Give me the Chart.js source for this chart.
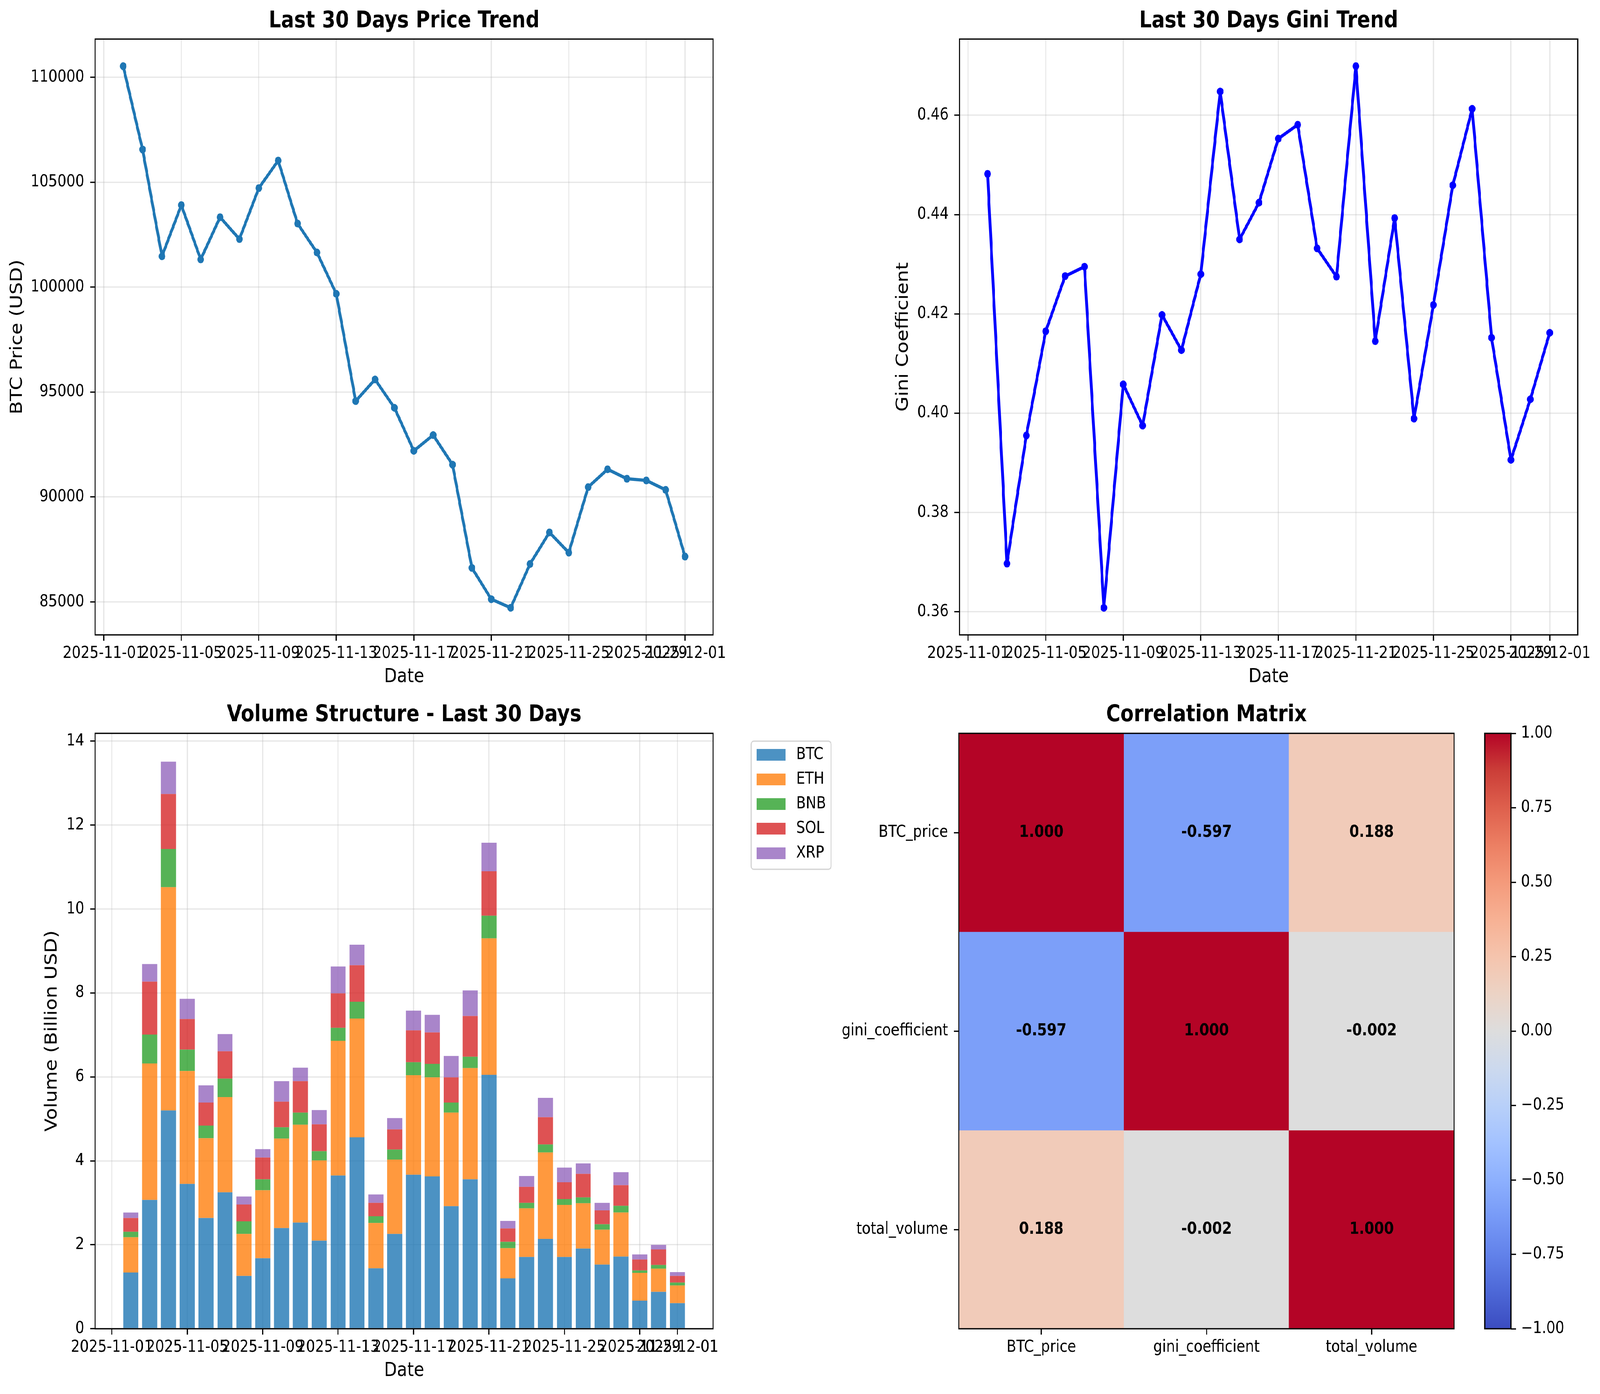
<!DOCTYPE html>
<html>
<head>
<meta charset="utf-8">
<script src="https://cdn.jsdelivr.net/npm/chart.js@4.4.1/dist/chart.umd.min.js"></script>
<style>
  html, body { margin: 0; padding: 0; background: #fff; overflow: hidden; }
  #page { width: 4761px; height: 3568px; position: relative; transform-origin: 0 0; background: #fff; }
  canvas { position: absolute; }
</style>
</head>
<body>
<div id="page">
<canvas id="priceChart" width="2300" height="1780" style="left:0px;top:0px"></canvas>
<canvas id="giniChart" width="2261" height="1780" style="left:2500px;top:0px"></canvas>
<canvas id="volumeChart" width="2490" height="1788" style="left:0px;top:1780px"></canvas>
<canvas id="corrChart" width="1910" height="1788" style="left:2490px;top:1780px"></canvas>
<canvas id="colorbarChart" width="361" height="1788" style="left:4400px;top:1780px"></canvas>
</div>
<script>
// data
const dates = [
  '2025-11-02', '2025-11-03', '2025-11-04', '2025-11-05', '2025-11-06', '2025-11-07',
  '2025-11-08', '2025-11-09', '2025-11-10', '2025-11-11', '2025-11-12', '2025-11-13',
  '2025-11-14', '2025-11-15', '2025-11-16', '2025-11-17', '2025-11-18', '2025-11-19',
  '2025-11-20', '2025-11-21', '2025-11-22', '2025-11-23', '2025-11-24', '2025-11-25',
  '2025-11-26', '2025-11-27', '2025-11-28', '2025-11-29', '2025-11-30', '2025-12-01'
];
const tickDates = ['2025-11-01', '2025-11-05', '2025-11-09', '2025-11-13', '2025-11-17',
  '2025-11-21', '2025-11-25', '2025-11-29', '2025-12-01'];

const btcPrice = [110530, 106560, 101470, 103910, 101320, 103330, 102290, 104720, 106030, 103030,
  101650, 99680, 94570, 95600, 94250, 92200, 92950, 91540, 86620, 85130,
  84720, 86810, 88310, 87350, 90470, 91320, 90870, 90790, 90340, 87160];
const priceTicks = [85000, 90000, 95000, 100000, 105000, 110000];

const giniCoef = [0.4482, 0.3697, 0.3955, 0.4165, 0.4276, 0.4295, 0.3608, 0.4058, 0.3975, 0.4198,
  0.4127, 0.4280, 0.4648, 0.4350, 0.4424, 0.4553, 0.4581, 0.4332, 0.4275, 0.4699,
  0.4145, 0.4393, 0.3989, 0.4218, 0.4459, 0.4613, 0.4152, 0.3906, 0.4028, 0.4162];
const giniTicks = [0.36, 0.38, 0.40, 0.42, 0.44, 0.46];

const coinNames = ['BTC', 'ETH', 'BNB', 'SOL', 'XRP'];
const coinColors = ['rgba(31,119,180,0.8)', 'rgba(255,127,14,0.8)', 'rgba(44,160,44,0.8)',
  'rgba(214,39,40,0.8)', 'rgba(148,103,189,0.8)'];
const btcVol = [1.34, 3.07, 5.20, 3.45, 2.64, 3.25, 1.26, 1.68, 2.40, 2.53, 2.10, 3.65, 4.56, 1.44, 2.26,
  3.67, 3.63, 2.92, 3.56, 6.05, 1.20, 1.71, 2.14, 1.71, 1.91, 1.53, 1.72, 0.67, 0.88, 0.61];
const ethVol = [0.84, 3.25, 5.32, 2.69, 1.90, 2.27, 1.00, 1.62, 2.13, 2.33, 1.91, 3.21, 2.83, 1.08, 1.77,
  2.37, 2.36, 2.23, 2.65, 3.25, 0.72, 1.16, 2.06, 1.24, 1.08, 0.83, 1.05, 0.66, 0.55, 0.42];
const bnbVol = [0.13, 0.69, 0.91, 0.51, 0.30, 0.44, 0.30, 0.26, 0.27, 0.29, 0.22, 0.31, 0.40, 0.16, 0.24,
  0.31, 0.32, 0.24, 0.27, 0.54, 0.15, 0.13, 0.19, 0.14, 0.14, 0.13, 0.16, 0.06, 0.09, 0.07];
const solVol = [0.33, 1.26, 1.31, 0.73, 0.55, 0.65, 0.40, 0.52, 0.61, 0.75, 0.64, 0.82, 0.87, 0.32, 0.48,
  0.76, 0.75, 0.60, 0.97, 1.06, 0.32, 0.38, 0.65, 0.40, 0.56, 0.33, 0.49, 0.26, 0.37, 0.16];
const xrpVol = [0.13, 0.42, 0.77, 0.48, 0.41, 0.41, 0.19, 0.20, 0.49, 0.32, 0.34, 0.64, 0.49, 0.20, 0.27,
  0.47, 0.42, 0.51, 0.61, 0.68, 0.18, 0.26, 0.46, 0.35, 0.25, 0.18, 0.31, 0.12, 0.11, 0.09];
const volumeTicks = [0, 2, 4, 6, 8, 10, 12, 14];

const corrLabels = ['BTC_price', 'gini_coefficient', 'total_volume'];
const corrBtcPrice = [1.000, -0.597, 0.188];
const corrGini = [-0.597, 1.000, -0.002];
const corrVolume = [0.188, -0.002, 1.000];
const colorbarTicks = [-1, -0.75, -0.5, -0.25, 0, 0.25, 0.5, 0.75, 1];

// matplotlib coolwarm, sampled every 1/16
const coolwarmStops = [
  [59, 76, 192], [77, 104, 215], [98, 130, 234], [119, 154, 247], [141, 176, 254],
  [163, 194, 255], [184, 208, 249], [204, 217, 238], [221, 221, 221], [236, 211, 197],
  [245, 196, 173], [247, 177, 148], [244, 154, 123], [236, 127, 99], [222, 96, 77],
  [203, 62, 56], [180, 4, 38]
];

// the page is laid out at 4761x3568; the browser caps the window at 4096 wide,
// so stretch the whole page onto whatever viewport we actually get
const PAGE_W = 4761, PAGE_H = 3568;
const sx = window.innerWidth / PAGE_W, sy = window.innerHeight / PAGE_H;
document.getElementById('page').style.transform = 'scale(' + sx + ',' + sy + ')';

const FONT = 'DejaVu Sans';
const LW = 3.3;
const GRID = 'rgba(176,176,176,0.3)';
Chart.defaults.font.family = FONT;
Chart.defaults.font.size = 42;
Chart.defaults.color = '#000';

const origin = Date.parse('2025-11-01');
function dayOf(d) { return Math.round((Date.parse(d) - origin) / 86400000); }

function coolwarm(v) {
  const t = Math.min(1, Math.max(0, (v + 1) / 2)) * (coolwarmStops.length - 1);
  const i = Math.min(Math.floor(t), coolwarmStops.length - 2);
  const f = t - i;
  const a = coolwarmStops[i], b = coolwarmStops[i + 1];
  const c = a.map((x, k) => Math.round(x + (b[k] - x) * f));
  return 'rgb(' + c.join(',') + ')';
}

function pad5(lo, hi) {
  const p = (hi - lo) * 0.05;
  return [lo - p, hi + p];
}

// black box round the plot area, like matplotlib spines
const framePlugin = {
  id: 'frame',
  afterDraw(chart) {
    const { ctx, chartArea: a } = chart;
    ctx.save();
    ctx.strokeStyle = '#000';
    ctx.lineWidth = LW;
    ctx.strokeRect(a.left, a.top, a.right - a.left, a.bottom - a.top);
    ctx.restore();
  }
};

function dateAxis(range, height, titlePadBottom) {
  return {
    type: 'linear',
    min: range[0],
    max: range[1],
    offset: false,
    afterBuildTicks: s => { s.ticks = tickDates.map(d => ({ value: dayOf(d) })); },
    afterFit: s => { s.height = height; },
    ticks: { autoSkip: false, maxRotation: 0, minRotation: 0, padding: 8,
      callback: (v, i) => tickDates[i] },
    grid: { offset: false, color: GRID, lineWidth: LW, tickColor: '#000', tickWidth: LW, tickLength: 15 },
    border: { display: false },
    title: { display: true, text: 'Date', font: { size: 50 }, padding: { top: 0, bottom: titlePadBottom } }
  };
}

function valueAxis(ticks, range, fmt, title, width, titlePadTop) {
  return {
    type: 'linear',
    min: range[0],
    max: range[1],
    afterBuildTicks: s => { s.ticks = ticks.map(v => ({ value: v })); },
    afterFit: s => { s.width = width; },
    ticks: { padding: 17, callback: v => fmt(v) },
    grid: { color: GRID, lineWidth: LW, tickColor: '#000', tickWidth: LW, tickLength: 15 },
    border: { display: false },
    title: { display: true, text: title, font: { size: 50 }, padding: { top: titlePadTop, bottom: 0 } }
  };
}

function titleOpts(text, padTop, padBottom) {
  return { display: true, text: text, fullSize: false,
    font: { size: 58, weight: 'bold', lineHeight: 1 }, padding: { top: padTop, bottom: padBottom } };
}

const days = dates.map(dayOf);
const lineRange = pad5(days[0], days[days.length - 1]);

function lineChart(id, values, color, ticks, fmt, yTitle, chartTitle, yWidth, yTitlePad, rightPad) {
  return new Chart(document.getElementById(id), {
    type: 'line',
    data: {
      datasets: [{
        data: days.map((x, i) => ({ x: x, y: values[i] })),
        borderColor: color,
        backgroundColor: color,
        borderWidth: 8.3,
        borderJoinStyle: 'round',
        pointRadius: 8.5,
        pointBorderWidth: 3,
        pointHoverRadius: 8.5,
        tension: 0
      }]
    },
    options: {
      responsive: false,
      animation: false,
      devicePixelRatio: 1,
      layout: { padding: { left: 0, top: 0, right: rightPad, bottom: 0 } },
      plugins: {
        legend: { display: false },
        tooltip: { enabled: false },
        title: titleOpts(chartTitle, 26, 16)
      },
      scales: {
        x: dateAxis(lineRange, 155, 17),
        y: valueAxis(ticks, pad5(Math.min(...values), Math.max(...values)), fmt, yTitle, yWidth, yTitlePad)
      }
    },
    plugins: [framePlugin]
  });
}

lineChart('priceChart', btcPrice, '#1f77b4', priceTicks, v => String(v),
  'BTC Price (USD)', 'Last 30 Days Price Trend', 283, 22, 178);
lineChart('giniChart', giniCoef, '#0000ff', giniTicks, v => v.toFixed(2),
  'Gini Coefficient', 'Last 30 Days Gini Trend', 355, 158, 66);

// stacked volume bars
const volumeSeries = [btcVol, ethVol, bnbVol, solVol, xrpVol];
const totals = days.map((d, i) => volumeSeries.reduce((s, arr) => s + arr[i], 0));
const barRange = pad5(days[0] - 0.4, days[days.length - 1] + 0.4);

const boxLegendPlugin = {
  id: 'boxLegend',
  afterDraw(chart, args, o) {
    const { ctx, chartArea: a } = chart;
    const x0 = a.right + o.offsetX, y0 = a.top + o.offsetY;
    ctx.save();
    ctx.beginPath();
    if (ctx.roundRect) ctx.roundRect(x0, y0, o.width, o.height, o.radius);
    else ctx.rect(x0, y0, o.width, o.height);
    ctx.fillStyle = 'rgba(255,255,255,0.8)';
    ctx.fill();
    ctx.strokeStyle = 'rgba(204,204,204,0.8)';
    ctx.lineWidth = LW;
    ctx.stroke();
    ctx.font = '42px "' + FONT + '"';
    ctx.textBaseline = 'middle';
    ctx.textAlign = 'left';
    chart.data.datasets.forEach((ds, i) => {
      const cy = y0 + o.firstY + i * o.step;
      ctx.fillStyle = ds.backgroundColor;
      ctx.fillRect(x0 + o.patchX, cy - o.patchH / 2, o.patchW, o.patchH);
      ctx.fillStyle = '#000';
      ctx.fillText(ds.label, x0 + o.textX, cy);
    });
    ctx.restore();
  }
};

const volX = dateAxis(barRange, 167, 29);
volX.stacked = true;
volX.z = 1;
const volY = valueAxis(volumeTicks, [0, Math.max(...totals) * 1.05], v => String(v),
  'Volume (Billion USD)', 283, 125);
volY.stacked = true;
volY.z = 1;

new Chart(document.getElementById('volumeChart'), {
  type: 'bar',
  data: {
    datasets: coinNames.map((name, k) => ({
      label: name,
      data: days.map((x, i) => ({ x: x, y: volumeSeries[k][i] })),
      backgroundColor: coinColors[k],
      borderWidth: 0,
      barPercentage: 0.8,
      categoryPercentage: 1
    }))
  },
  options: {
    responsive: false,
    animation: false,
    devicePixelRatio: 1,
    layout: { padding: { left: 0, top: 0, right: 368, bottom: 0 } },
    plugins: {
      legend: { display: false },
      tooltip: { enabled: false },
      title: titleOpts('Volume Structure - Last 30 Days', 22, 17),
      boxLegend: { offsetX: 113, offsetY: 20, width: 238, height: 328, radius: 8,
        firstY: 35, step: 63, patchX: 17, patchW: 85, patchH: 30, textX: 134 }
    },
    scales: { x: volX, y: volY }
  },
  plugins: [framePlugin, boxLegendPlugin]
});

// correlation heat map drawn as floating bars, one row per dataset
const corrRows = [corrBtcPrice, corrGini, corrVolume];

const cellTextPlugin = {
  id: 'cellText',
  afterDatasetsDraw(chart) {
    const { ctx, scales: { x, y } } = chart;
    ctx.save();
    ctx.font = 'bold 42px "' + FONT + '"';
    ctx.fillStyle = '#000';
    ctx.textAlign = 'center';
    ctx.textBaseline = 'middle';
    corrRows.forEach((row, r) => row.forEach((v, c) => {
      ctx.fillText(v.toFixed(3), x.getPixelForValue(c), y.getPixelForValue(r + 0.5));
    }));
    ctx.restore();
  }
};

new Chart(document.getElementById('corrChart'), {
  type: 'bar',
  data: {
    labels: corrLabels,
    datasets: corrRows.map((row, r) => ({
      label: corrLabels[r],
      data: row.map(() => [r, r + 1]),
      backgroundColor: row.map(coolwarm),
      borderWidth: 0,
      barPercentage: 1,
      categoryPercentage: 1,
      grouped: false
    }))
  },
  options: {
    responsive: false,
    animation: false,
    devicePixelRatio: 1,
    layout: { padding: { left: 0, top: 0, right: 73, bottom: 0 } },
    plugins: {
      legend: { display: false },
      tooltip: { enabled: false },
      title: titleOpts('Correlation Matrix', 22, 17)
    },
    scales: {
      x: {
        type: 'category',
        offset: true,
        afterFit: s => { s.height = 167; },
        ticks: { padding: 8, maxRotation: 0, minRotation: 0, autoSkip: false },
        grid: { offset: false, drawOnChartArea: false, tickColor: '#000', tickWidth: LW, tickLength: 15 },
        border: { display: false }
      },
      y: {
        type: 'linear',
        min: 0,
        max: corrLabels.length,
        reverse: true,
        afterBuildTicks: s => { s.ticks = corrLabels.map((l, i) => ({ value: i + 0.5 })); },
        afterFit: s => { s.width = 363; },
        ticks: { padding: 17, callback: (v, i) => corrLabels[i] },
        grid: { drawOnChartArea: false, tickColor: '#000', tickWidth: LW, tickLength: 15 },
        border: { display: false }
      }
    }
  },
  plugins: [cellTextPlugin, framePlugin]
});

// colour bar
new Chart(document.getElementById('colorbarChart'), {
  type: 'bar',
  data: {
    labels: [''],
    datasets: [{
      data: [[-1, 1]],
      backgroundColor: c => {
        const a = c.chart.chartArea;
        if (!a) return '#dddddd';
        const g = c.chart.ctx.createLinearGradient(0, a.bottom, 0, a.top);
        coolwarmStops.forEach((s, i) => g.addColorStop(i / (coolwarmStops.length - 1), 'rgb(' + s.join(',') + ')'));
        return g;
      },
      borderWidth: 0,
      barPercentage: 1,
      categoryPercentage: 1
    }]
  },
  options: {
    responsive: false,
    animation: false,
    devicePixelRatio: 1,
    layout: { padding: { left: 18, top: 97, right: 0, bottom: 167 } },
    plugins: { legend: { display: false }, tooltip: { enabled: false } },
    scales: {
      x: { display: false },
      y: {
        position: 'right',
        min: -1,
        max: 1,
        afterBuildTicks: s => { s.ticks = colorbarTicks.map(v => ({ value: v })); },
        afterFit: s => { s.width = 265; },
        ticks: { padding: 15, callback: v => v.toFixed(2).replace('-', '\u2212') },
        grid: { drawOnChartArea: false, tickColor: '#000', tickWidth: LW, tickLength: 15 },
        border: { display: false }
      }
    }
  },
  plugins: [framePlugin]
});
</script>
</body>
</html>
